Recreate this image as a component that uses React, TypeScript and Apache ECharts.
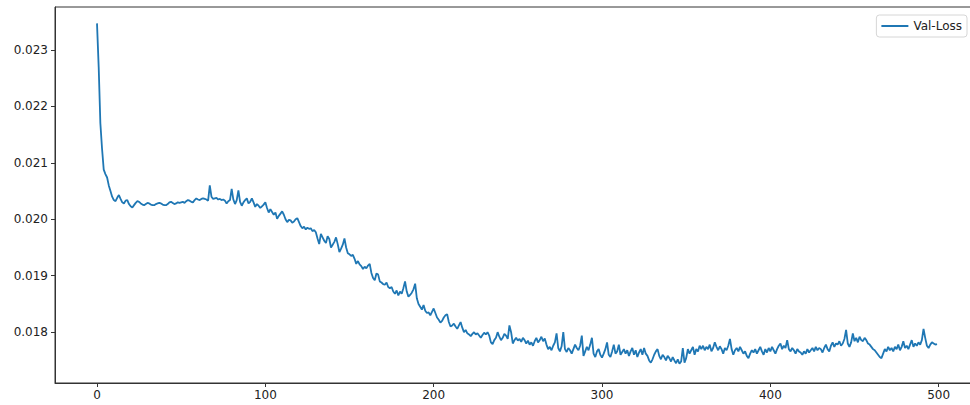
import React, { useEffect, useRef } from "react";
import * as echarts from "echarts";

const seriesName = "Val-Loss";

const valLoss: number[] = [
  0.02347, 0.0227, 0.0217, 0.02125, 0.02088, 0.0208, 0.02074, 0.0206, 0.0205, 0.0204,
  0.02034, 0.02032, 0.02038, 0.02043, 0.02036, 0.0203, 0.02028, 0.02033, 0.02034, 0.02027,
  0.02023, 0.02021, 0.02025, 0.02029, 0.02032, 0.02031, 0.02028, 0.02026, 0.02025, 0.02027,
  0.02029, 0.02028, 0.02026, 0.02025, 0.02025, 0.02027, 0.02028, 0.02029, 0.02028, 0.02026,
  0.02025, 0.02025, 0.02027, 0.0203, 0.02031, 0.02029, 0.02027, 0.02028, 0.0203, 0.02029,
  0.0203, 0.02031, 0.02029, 0.02032, 0.02034, 0.02033, 0.02031, 0.0203, 0.02034, 0.02037,
  0.02035, 0.02034, 0.02036, 0.02037, 0.02036, 0.02035, 0.02033, 0.0206, 0.0204, 0.02036,
  0.02037, 0.02038, 0.02035, 0.02036, 0.02034, 0.02035, 0.02033, 0.02028, 0.02032, 0.02034,
  0.02054, 0.02035, 0.02027, 0.02034, 0.02051, 0.02031, 0.02024, 0.0203, 0.02034, 0.02037,
  0.02028, 0.02031, 0.02037, 0.0203, 0.02022, 0.02027, 0.02024, 0.0202, 0.02023, 0.02026,
  0.0203, 0.0202, 0.02012, 0.02018, 0.02013, 0.02008, 0.02012, 0.02001, 0.02006, 0.0201,
  0.02014, 0.02008, 0.02, 0.01995, 0.01999, 0.01998, 0.01994, 0.01996, 0.02, 0.02002,
  0.01995, 0.01988, 0.01984, 0.01987, 0.01982, 0.01985, 0.01983, 0.01984, 0.01979, 0.01981,
  0.01977, 0.01966, 0.01956, 0.01974, 0.01968, 0.01962, 0.01958, 0.0197, 0.01965, 0.0195,
  0.01955, 0.0196, 0.01968, 0.01956, 0.01942, 0.01948, 0.01955, 0.01966, 0.0195, 0.0194,
  0.01938, 0.01935, 0.01937, 0.0193, 0.01921, 0.01926, 0.0192, 0.01917, 0.01912, 0.01916,
  0.01913, 0.01918, 0.01921, 0.01905, 0.01896, 0.01892, 0.01904, 0.01902, 0.0189, 0.01888,
  0.01885, 0.01884, 0.01888, 0.0188, 0.01878, 0.0188, 0.01872, 0.01868, 0.01874, 0.01865,
  0.01872, 0.01868, 0.01878, 0.0189, 0.01872, 0.01863, 0.01866, 0.0187, 0.01876, 0.01886,
  0.0186, 0.0185, 0.01845, 0.0184, 0.01848, 0.01838, 0.01834, 0.01835, 0.0183, 0.01836,
  0.01842, 0.01834, 0.01826, 0.01822, 0.01817, 0.0182, 0.01826, 0.0183, 0.01832, 0.01818,
  0.0181, 0.01812, 0.01815, 0.0181, 0.01806, 0.01812, 0.01818, 0.01808, 0.018, 0.01804,
  0.01798, 0.01796, 0.01793, 0.01797, 0.018, 0.01796, 0.01798, 0.01794, 0.0179, 0.01795,
  0.01799, 0.01796, 0.018, 0.01794, 0.01782, 0.01779, 0.01786, 0.0179, 0.018, 0.01792,
  0.01786, 0.0179, 0.01797, 0.01794, 0.01788, 0.01812, 0.018, 0.0178, 0.01786, 0.0179,
  0.01785, 0.01788, 0.01783, 0.0179, 0.01786, 0.0178, 0.01785, 0.01778, 0.01782, 0.01776,
  0.01784, 0.0179, 0.01782, 0.01786, 0.01792, 0.01784, 0.01789, 0.01778, 0.0177, 0.01774,
  0.01768, 0.01776, 0.01782, 0.01798, 0.01772, 0.01766, 0.01775, 0.018, 0.0177, 0.01765,
  0.01772, 0.01768, 0.01762, 0.0177, 0.01778, 0.01772, 0.01768, 0.01776, 0.01794, 0.01758,
  0.01766, 0.01774, 0.01768, 0.01778, 0.0179, 0.01762, 0.01756, 0.01766, 0.0177, 0.0176,
  0.01755, 0.01762, 0.0177, 0.01782, 0.0176, 0.01756, 0.01766, 0.01778, 0.01762, 0.01766,
  0.01778, 0.0176, 0.01765, 0.0177, 0.01762, 0.01768, 0.01758, 0.01766, 0.01772, 0.0176,
  0.01768, 0.01756, 0.01764, 0.0177, 0.0176, 0.01772, 0.01762, 0.01758, 0.0175, 0.01746,
  0.01752, 0.0176, 0.01766, 0.0177, 0.01758, 0.01752, 0.0176, 0.01756, 0.0175, 0.01758,
  0.01754, 0.01748, 0.01756, 0.0175, 0.01745, 0.01752, 0.01744, 0.01748, 0.01772, 0.01746,
  0.01754, 0.0177, 0.01762, 0.01768, 0.01774, 0.0176, 0.0177, 0.01766, 0.01776, 0.0177,
  0.01776, 0.01768, 0.01774, 0.0177, 0.01778, 0.01766, 0.01772, 0.01782, 0.01774, 0.01768,
  0.01775, 0.0177, 0.01762, 0.01772, 0.01768, 0.01776, 0.01788, 0.0177, 0.0176, 0.01768,
  0.01772, 0.01766, 0.01774, 0.01768, 0.01762, 0.01766, 0.01758, 0.01754, 0.01762, 0.01768,
  0.01764, 0.0177, 0.01762, 0.01768, 0.01774, 0.01766, 0.0176, 0.0177, 0.01764, 0.01772,
  0.01766, 0.01774, 0.01768, 0.01762, 0.0177, 0.01776, 0.0178, 0.0177, 0.01776, 0.01772,
  0.01786, 0.0177, 0.01766, 0.01772, 0.01768, 0.01762, 0.0177, 0.01766, 0.01764, 0.0176,
  0.01766, 0.01762, 0.0177, 0.01764, 0.01768, 0.01772, 0.01766, 0.01774, 0.01768, 0.01772,
  0.0177, 0.01764, 0.01772, 0.01778, 0.0177, 0.01766, 0.01776, 0.01782, 0.01774, 0.0178,
  0.01778, 0.01784, 0.01776, 0.0178, 0.01788, 0.01804, 0.0178, 0.01774, 0.01782, 0.01798,
  0.01784, 0.0179, 0.01782, 0.01792, 0.01786, 0.01784, 0.0179, 0.01786, 0.0178, 0.01778,
  0.01774, 0.0177, 0.01768, 0.01764, 0.0176, 0.01756, 0.01754, 0.01762, 0.0177, 0.01766,
  0.01774, 0.01768, 0.01772, 0.01766, 0.01774, 0.0177, 0.01778, 0.01768, 0.01774, 0.01784,
  0.01772, 0.01776, 0.0177, 0.01778, 0.01786, 0.01774, 0.0178, 0.01776, 0.01782, 0.01778,
  0.01786, 0.01806, 0.0179, 0.01776, 0.01772, 0.01778, 0.01782, 0.0178, 0.01778, 0.01779,
];

const epochs: number[] = valLoss.map((_, i) => i);
const xTicks: number[] = [0, 100, 200, 300, 400, 500];
const yTicks: number[] = [0.018, 0.019, 0.02, 0.021, 0.022, 0.023];

export default function App() {
  const ref = useRef<HTMLDivElement>(null);
  useEffect(() => {
    if (!ref.current) return;
    const chart = echarts.init(ref.current, null, { renderer: "svg" });
    const font = "DejaVu Sans";
    chart.setOption({
      animation: false,
      backgroundColor: "#ffffff",
      textStyle: { fontFamily: font },
      grid: {
        left: 55,
        top: 7,
        width: 924,
        height: 376,
        show: true,
        borderColor: "#333333",
        borderWidth: 1,
        backgroundColor: "transparent",
      },
      legend: {
        show: true,
        right: 23,
        top: 15,
        data: [seriesName],
        icon: "rect",
        itemWidth: 27,
        itemHeight: 2,
        itemGap: 8,
        padding: [5, 5, 5, 5],
        borderColor: "#d6d6d6",
        borderWidth: 1,
        borderRadius: 3,
        backgroundColor: "#ffffff",
        textStyle: { fontFamily: font, fontSize: 12, color: "#222222" },
      },
      xAxis: {
        type: "value",
        min: -24.95,
        max: 523.95,
        splitLine: { show: false },
        axisLine: { show: true, onZero: false, lineStyle: { color: "#333333", width: 1 } },
        axisTick: {
          show: true,
          length: 4,
          customValues: xTicks,
          lineStyle: { color: "#333333" },
        },
        axisLabel: {
          customValues: xTicks,
          margin: 6,
          fontSize: 12,
          color: "#222222",
          fontFamily: font,
          formatter: (v: number) => String(v),
        },
      },
      yAxis: {
        type: "value",
        min: 0.0171,
        max: 0.02376,
        splitLine: { show: false },
        axisLine: { show: true, onZero: false, lineStyle: { color: "#333333", width: 1 } },
        axisTick: {
          show: true,
          length: 4,
          customValues: yTicks,
          lineStyle: { color: "#333333" },
        },
        axisLabel: {
          customValues: yTicks,
          margin: 7,
          fontSize: 12,
          color: "#222222",
          fontFamily: font,
          formatter: (v: number) => v.toFixed(3),
        },
      },
      series: [
        {
          name: seriesName,
          type: "line",
          data: epochs.map((e, i) => [e, valLoss[i]]),
          showSymbol: false,
          symbol: "none",
          lineStyle: { color: "#1f77b4", width: 1.8 },
          itemStyle: { color: "#1f77b4" },
        },
      ],
    });
    return () => chart.dispose();
  }, []);
  return (
    <div
      style={{
        position: "fixed",
        left: 0,
        top: 0,
        width: 970,
        height: 405,
        overflow: "hidden",
        background: "#ffffff",
      }}
    >
      <div ref={ref} style={{ width: 990, height: 405 }} />
    </div>
  );
}
